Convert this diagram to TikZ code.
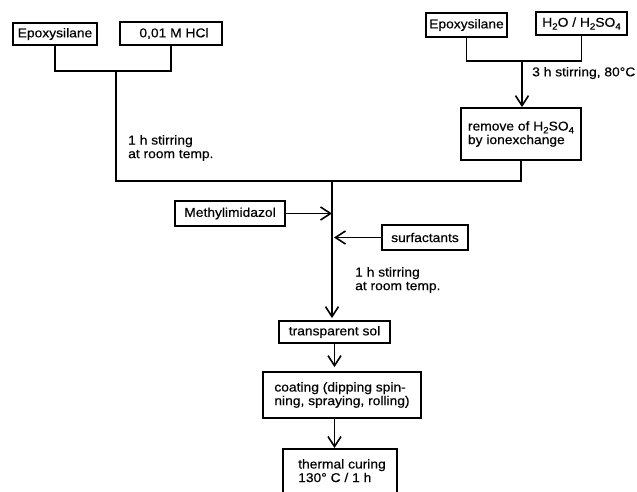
\documentclass[tikz,border=0pt]{standalone}
\usepackage{fontspec}
\setmainfont[FakeStretch=1.08,FakeBold=0.4]{Liberation Sans}
\usetikzlibrary{arrows.meta,calc}
\newcommand{\sbs}[1]{\raisebox{-2.8pt}{\fontsize{9}{9}\selectfont #1}}
\begin{document}
\begin{tikzpicture}[x=1pt,y=-1pt,
  every node/.style={font=\fontsize{12.8}{13.6}\selectfont, inner sep=0pt},
  box/.style={draw, line width=1.8pt, align=center},
  ln/.style={line width=1.5pt},
  arr/.style={ln, -{Straight Barb[length=10pt,width=13pt,line width=1.6pt]}}]
\useasboundingbox (0,0) rectangle (637,491);
\clip (0,0) rectangle (637,491);
% boxes
\node[box,minimum width=84pt,minimum height=22pt] (e1) at (55,34) {Epoxysilane};
\node[box,minimum width=102pt,minimum height=23pt] (hcl) at (171,33.5) {\hspace{6pt}0,01 M HCl};
\node[box,minimum width=81pt,minimum height=24pt] (e2) at (466.5,25) {Epoxysilane};
\node[box,minimum width=91pt,minimum height=23pt] (h2o) at (581.5,23.5) {H\sbs{2}O / H\sbs{2}SO\sbs{4}};
\node[box,align=left,minimum width=120pt,minimum height=52pt] (rem) at (521,134) {remove of H\sbs{2}SO\sbs{4}\\by ionexchange};
\node[box,minimum width=110pt,minimum height=25pt] (meth) at (230,213.5) {Methylimidazol};
\node[box,minimum width=86pt,minimum height=25pt] (surf) at (425,237.5) {surfactants};
\node[box,minimum width=111pt,minimum height=22pt] (sol) at (334.5,332) {transparent sol};
\node[box,align=left,minimum width=158pt,minimum height=46pt] (coat) at (342,395) {coating (dipping spin-\\ning, spraying, rolling)};
\node[box,minimum width=114pt,minimum height=70pt,anchor=north] (therm) at (340,448) {};
\node[align=left,anchor=north west] (thermtxt) at (298,459) {thermal curing\\130° C / 1 h};
% labels
\node[align=left,anchor=west] (lab1) at (128,148) {1 h stirring\\at room temp.};
\node[anchor=west] (lab2) at (532,73) {3 h stirring, 80°C};
\node[align=left,anchor=west] (lab3) at (355,280) {1 h stirring\\at room temp.};
% junctions
\coordinate (j1) at (116,71);
\coordinate (j2) at (522,61);
\coordinate (m) at (332,181);
% connectors
\draw[ln] (e1.south) -- (e1.south |- j1) -- (hcl.south |- j1) -- (hcl.south);
\draw[ln] (j1) -- (j1 |- m) -- (rem.south |- m) -- (rem.south);
\draw[ln] (e2.south) -- (e2.south |- j2) -- (h2o.south |- j2) -- (h2o.south);
\draw[arr] (j2) -- (j2 |- rem.north);
\draw[arr,shorten >=2pt] (m) -- (m |- sol.north);
\draw[arr] (meth.east) -- (meth.east -| m);
\draw[arr,shorten >=2pt] (surf.west) -- (surf.west -| m);
\draw[arr,shorten >=4pt] (sol.south) -- (sol.south |- coat.north);
\draw[arr] (coat.south -| sol.south) -- (therm.north -| sol.south);
\end{tikzpicture}
\end{document}
